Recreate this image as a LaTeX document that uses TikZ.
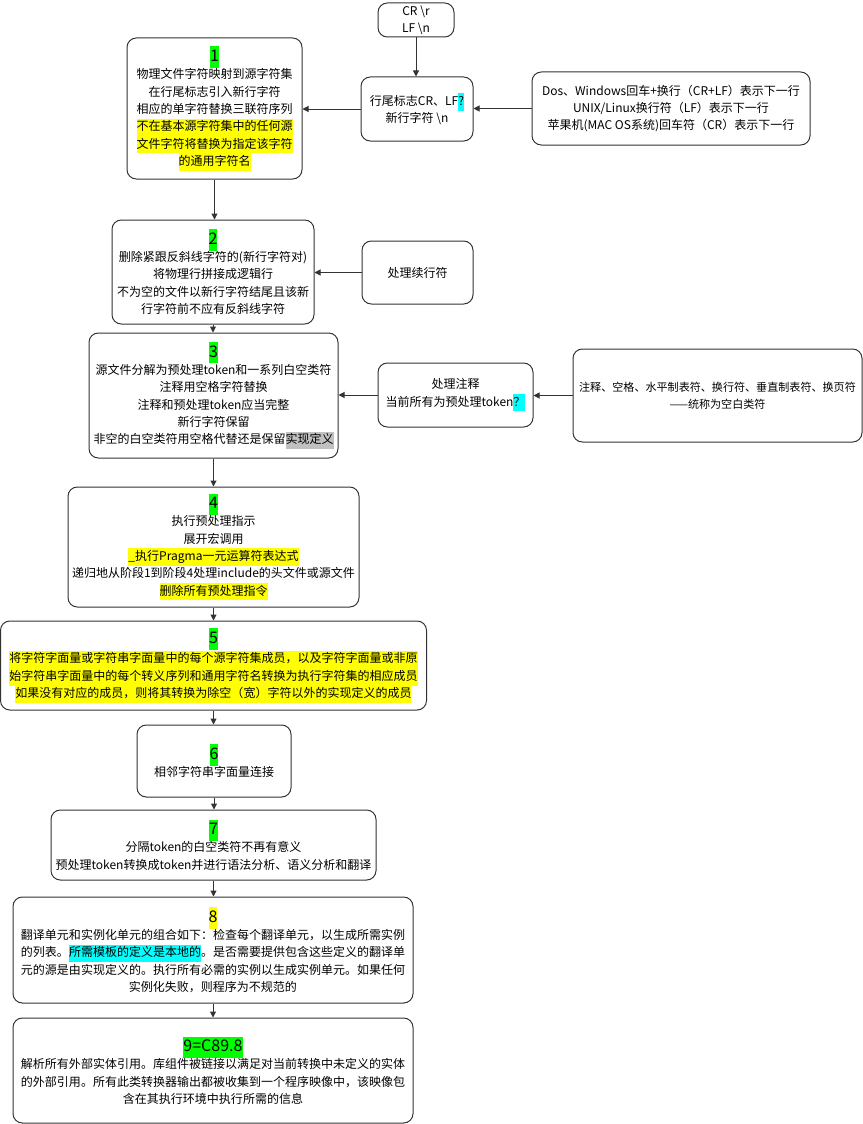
\documentclass[tikz,border=0pt]{standalone}
\usepackage{fontspec}
\setmainfont{Noto Sans CJK SC}
\usetikzlibrary{arrows.meta}
\definecolor{hlgreen}{HTML}{00FF00}
\definecolor{hlyellow}{HTML}{FFFF00}
\definecolor{hlcyan}{HTML}{00FFFF}
\definecolor{hlgray}{HTML}{C0C0C0}
\definecolor{edgecol}{HTML}{333333}
\newcommand{\hlt}[2]{{\setlength{\fboxsep}{0pt}\colorbox{#1}{\strut #2}}}
\newcommand{\stepnum}[2]{{\fontsize{12}{16}\selectfont\setlength{\fboxsep}{0pt}\colorbox{#1}{\strut #2}}}
\begin{document}
\begin{tikzpicture}[x=0.75pt,y=-0.75pt,
  box/.style={draw=edgecol, line width=0.75pt, rounded corners=7pt, align=center, inner sep=0pt, font=\fontsize{9}{13}\selectfont, text=black},
  sz/.style 2 args={minimum width=#1*0.75pt, minimum height=#2*0.75pt},
  arr/.style={draw=edgecol, line width=0.75pt, -{Triangle[length=4.5pt,width=4.5pt]}}]
\useasboundingbox (0,0) rectangle (863,1124);

\node[box, sz={76}{34}] (cr) at (416,20) {CR \textbackslash r\\LF \textbackslash n};

\node[box, sz={175}{141}] (b1) at (214.5,108.5) {\stepnum{hlgreen}{1}\\
物理文件字符映射到源字符集\\
在行尾标志引入新行字符\\
相应的单字符替换三联符序列\\
\hlt{hlyellow}{不在基本源字符集中的任何源}\\
\hlt{hlyellow}{文件字符将替换为指定该字符}\\
\hlt{hlyellow}{的通用字符名}};

\node[box, sz={112}{64}] (eol) at (417,109) {行尾标志CR、LF\hlt{hlcyan}{?}\\新行字符 \textbackslash n};

\node[box, sz={278}{73}] (dos) at (671,108.5) {Dos、Windows回车+换行（CR+LF）表示下一行\\
UNIX/Linux换行符（LF）表示下一行\\
苹果机(MAC OS系统)回车符（CR）表示下一行};

\node[box, sz={202}{104}] (b2) at (213,272) {\stepnum{hlgreen}{2}\\
删除紧跟反斜线字符的(新行字符对)\\
将物理行拼接成逻辑行\\
不为空的文件以新行字符结尾且该新\\
行字符前不应有反斜线字符};

\node[box, sz={111}{63}] (cont) at (417.5,272.5) {处理续行符};

\node[box, sz={249}{125}] (b3) at (213.5,395.5) {\stepnum{hlgreen}{3}\\
源文件分解为预处理token和一系列白空类符\\
注释用空格字符替换\\
注释和预处理token应当完整\\
新行字符保留\\
非空的白空类符用空格代替还是保留\hlt{hlgray}{实现定义}};

\node[box, sz={155}{64}] (cmt) at (455.5,395) {处理注释\\当前所有为预处理token\hlt{hlcyan}{？}};

\node[box, sz={289}{93}, font=\fontsize{8.3}{13}\selectfont] (ws) at (717.5,395.5) {注释、空格、水平制表符、换行符、垂直制表符、换页符\\——统称为空白类符};

\node[box, sz={291}{120}] (b4) at (213.5,547) {\stepnum{hlgreen}{4}\\
执行预处理指示\\
展开宏调用\\
\hlt{hlyellow}{\_执行Pragma一元运算符表达式}\\
递归地从阶段1到阶段4处理include的头文件或源文件\\
\hlt{hlyellow}{删除所有预处理指令}};

\node[box, sz={426}{89}] (b5) at (213.5,665.5) {\stepnum{hlgreen}{5}\\
\hlt{hlyellow}{将字符字面量或字符串字面量中的每个源字符集成员，以及字符字面量或非原}\\
\hlt{hlyellow}{始字符串字面量中的每个转义序列和通用字符名转换为执行字符集的相应成员}\\
\hlt{hlyellow}{如果没有对应的成员，则将其转换为除空（宽）字符以外的实现定义的成员}};

\node[box, sz={154}{72}] (b6) at (214,761) {\stepnum{hlgreen}{6}\\相邻字符串字面量连接};

\node[box, sz={325}{70}] (b7) at (213.5,845) {\stepnum{hlgreen}{7}\\
分隔token的白空类符不再有意义\\
预处理token转换成token并进行语法分析、语义分析和翻译};

\node[box, sz={400}{106}] (b8) at (213,950) {\stepnum{hlyellow}{8}\\
翻译单元和实例化单元的组合如下：检查每个翻译单元，以生成所需实例\\
的列表。\hlt{hlcyan}{所需模板的定义是本地的}。是否需要提供包含这些定义的翻译单\\
元的源是由实现定义的。执行所有必需的实例以生成实例单元。如果任何\\
实例化失败，则程序为不规范的};

\node[box, sz={400}{105}] (b9) at (213,1070.5) {\stepnum{hlgreen}{9=C89.8}\\
解析所有外部实体引用。库组件被链接以满足对当前转换中未定义的实体\\
的外部引用。所有此类转换器输出都被收集到一个程序映像中，该映像包\\
含在其执行环境中执行所需的信息};

\draw[arr] (cr.south) -- (cr.south |- eol.north);
\draw[arr] (eol.west) -- (eol.west -| b1.east);
\draw[arr] (dos.west) -- (dos.west -| eol.east);
\draw[arr] (cont.west) -- (cont.west -| b2.east);
\draw[arr] (cmt.west) -- (cmt.west -| b3.east);
\draw[arr] (ws.west) -- (ws.west -| cmt.east);
\draw[arr] (b1.south) -- (b1.south |- b2.north);
\draw[arr] (b2.south) -- (b2.south |- b3.north);
\draw[arr] (b3.south) -- (b3.south |- b4.north);
\draw[arr] (b4.south) -- (b4.south |- b5.north);
\draw[arr] (b5.south) -- (b5.south |- b6.north);
\draw[arr] (b6.south) -- (b6.south |- b7.north);
\draw[arr] (b7.south) -- (b7.south |- b8.north);
\draw[arr] (b8.south) -- (b8.south |- b9.north);
\end{tikzpicture}
\end{document}
